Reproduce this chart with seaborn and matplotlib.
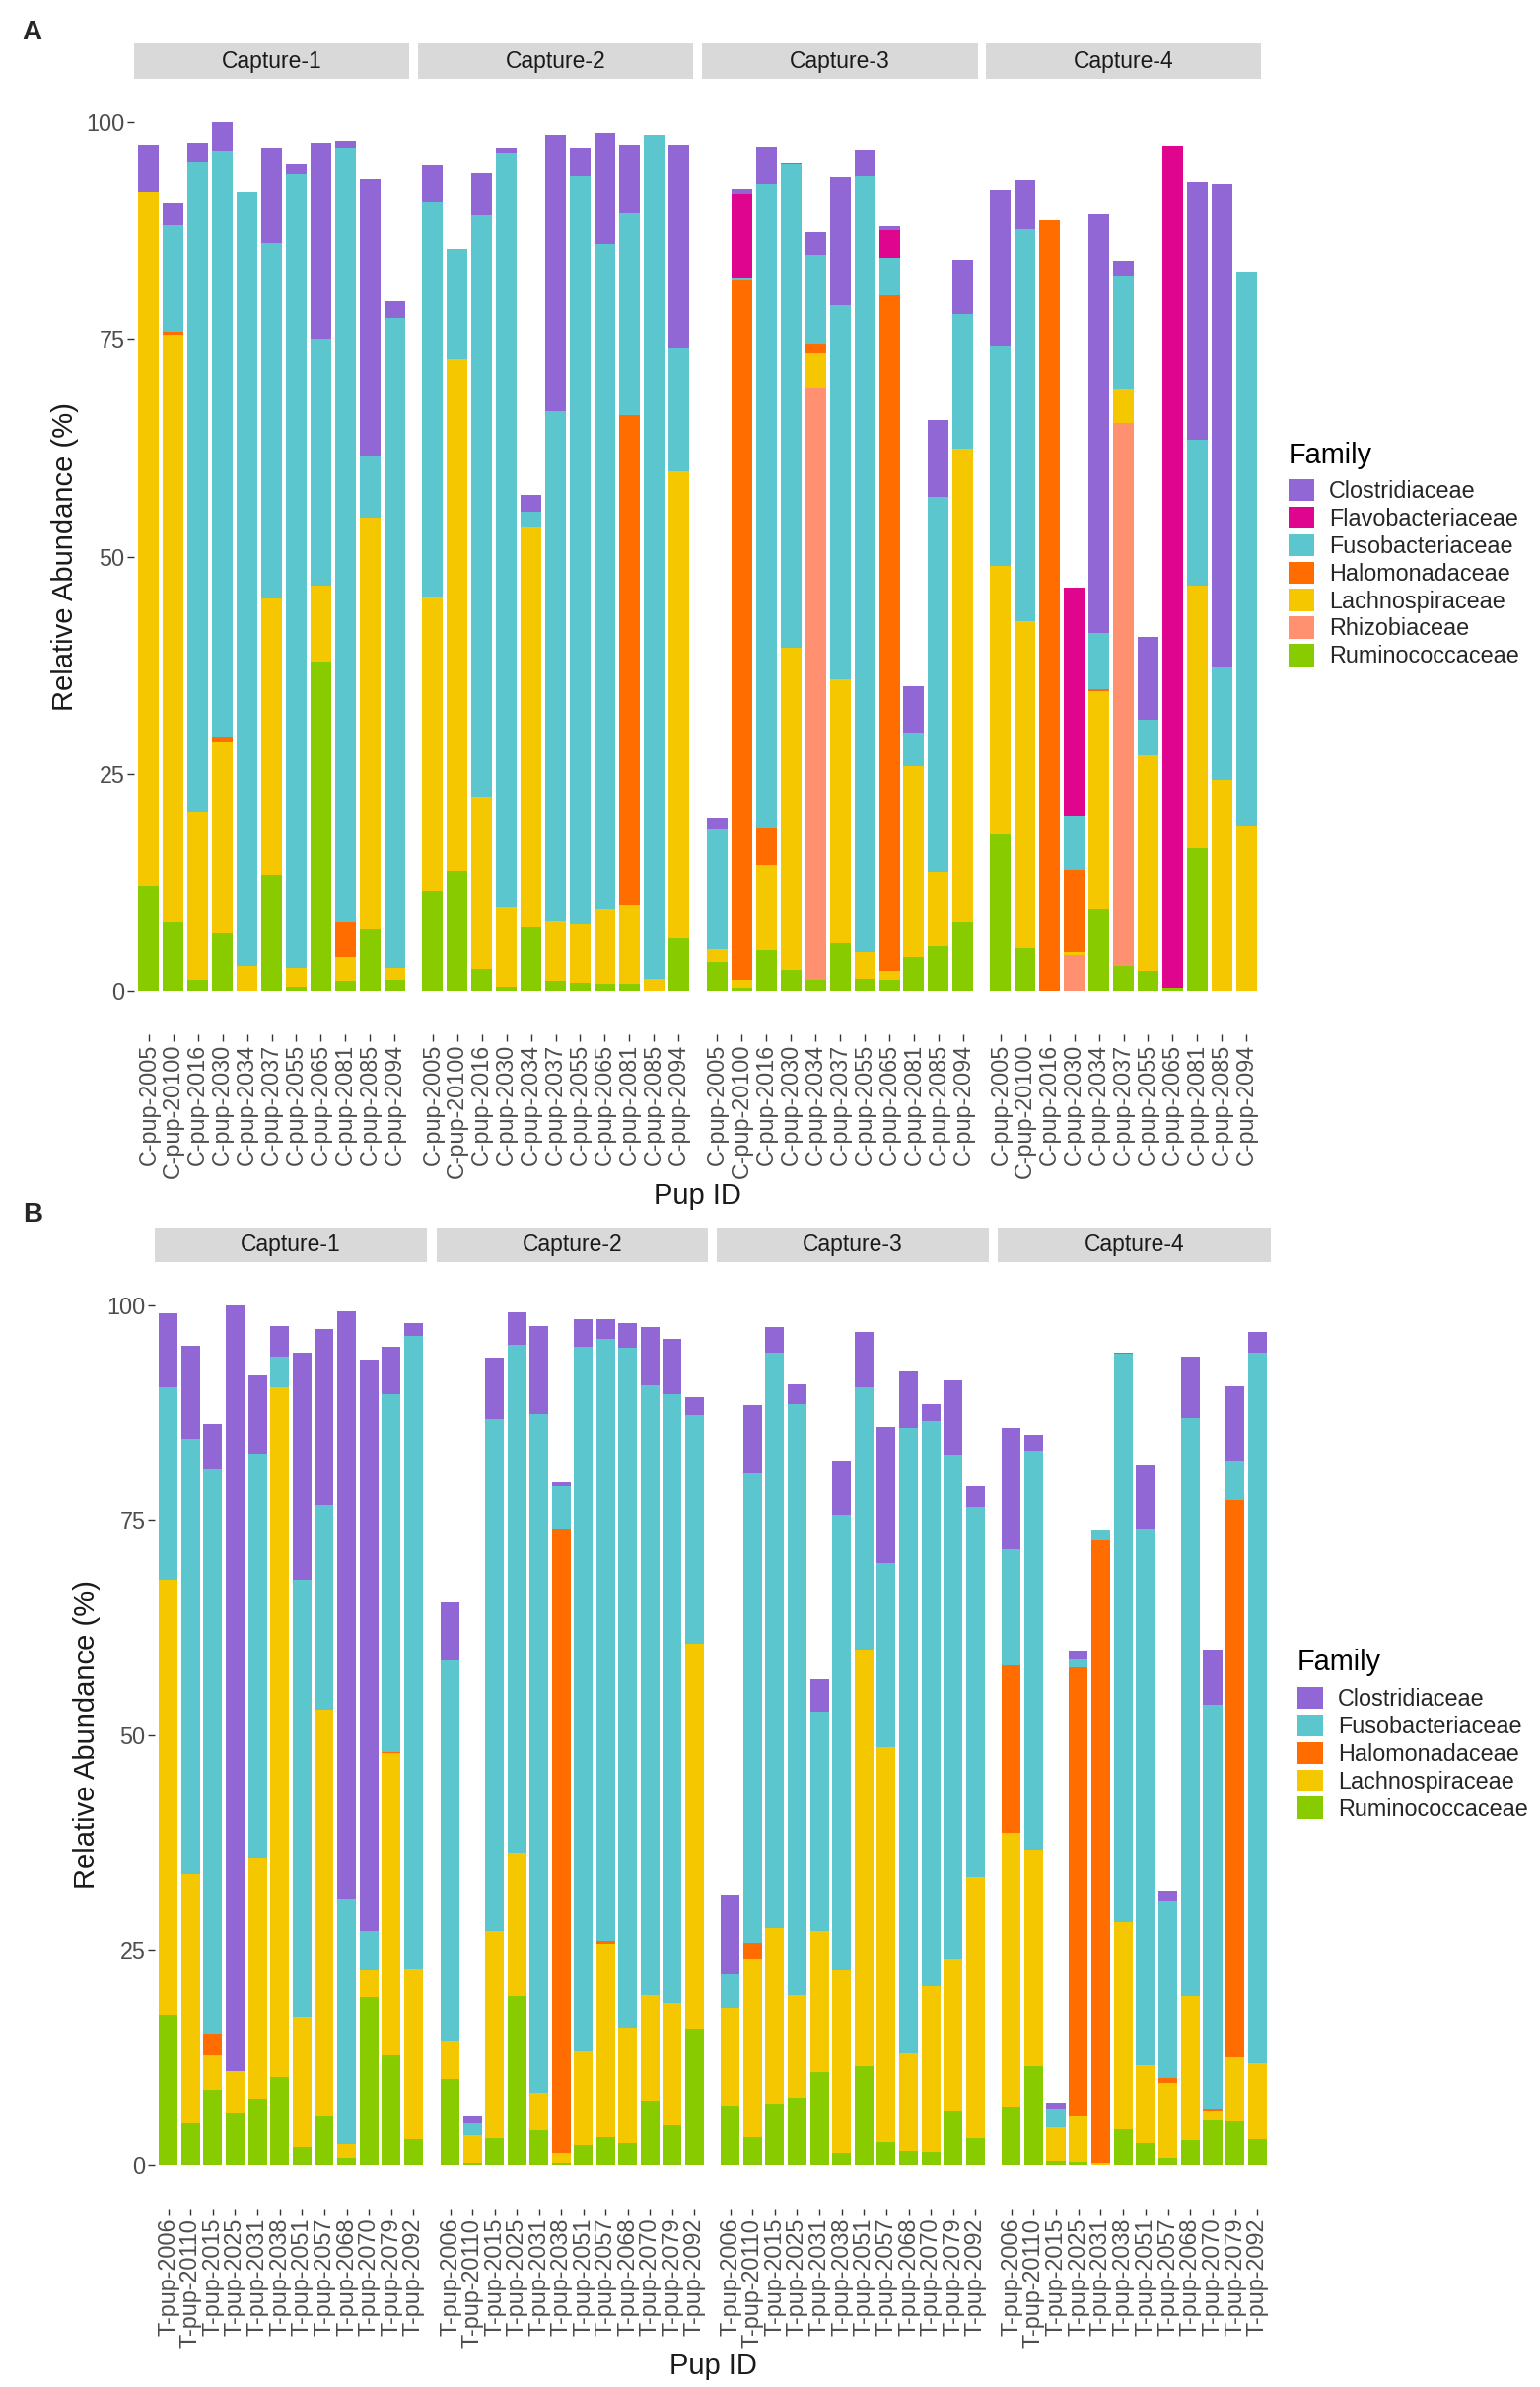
import numpy as np
import pandas as pd
import matplotlib
matplotlib.use("Agg")
import matplotlib.pyplot as plt
import seaborn as sns
from matplotlib.patches import Patch

W, H = 1562, 2421

captures = ["Capture-1", "Capture-2", "Capture-3", "Capture-4"]
families_a = ["Clostridiaceae", "Flavobacteriaceae", "Fusobacteriaceae", "Halomonadaceae",
              "Lachnospiraceae", "Rhizobiaceae", "Ruminococcaceae"]
families_b = ["Clostridiaceae", "Fusobacteriaceae", "Halomonadaceae",
              "Lachnospiraceae", "Ruminococcaceae"]
palette = {"Clostridiaceae": "#9067D5", "Flavobacteriaceae": "#E0058F",
           "Fusobacteriaceae": "#5CC6CE", "Halomonadaceae": "#FF6D00",
           "Lachnospiraceae": "#F5C700", "Rhizobiaceae": "#FF9170",
           "Ruminococcaceae": "#88CC00"}

pups_a = ["C-pup-2005", "C-pup-20100", "C-pup-2016", "C-pup-2030", "C-pup-2034", "C-pup-2037",
          "C-pup-2055", "C-pup-2065", "C-pup-2081", "C-pup-2085", "C-pup-2094"]
pups_b = ["T-pup-2006", "T-pup-20110", "T-pup-2015", "T-pup-2025", "T-pup-2031", "T-pup-2038",
          "T-pup-2051", "T-pup-2057", "T-pup-2068", "T-pup-2070", "T-pup-2079", "T-pup-2092"]

# panel A: relative abundance per capture (rows) and pup (columns)
clost_a = [[5.4, 2.5, 2.1, 3.3, 0, 10.8, 1.1, 22.6, 0.9, 31.9, 2.1],
           [4.3, 0, 4.9, 0.5, 1.9, 31.7, 3.3, 12.8, 7.8, 0, 23.4],
           [1.3, 0.6, 4.4, 0.2, 2.7, 14.7, 2.9, 0.5, 5.4, 8.8, 6.1],
           [18.0, 5.5, 0, 0, 48.3, 1.7, 9.6, 0, 29.6, 55.5, 0]]
flavo_a = [[0, 0, 0, 0, 0, 0, 0, 0, 0, 0, 0],
           [0, 0, 0, 0, 0, 0, 0, 0, 0, 0, 0],
           [0, 9.6, 0, 0, 0, 0, 0, 3.3, 0, 0, 0],
           [0, 0, 0, 26.3, 0, 0, 0, 97.0, 0, 0, 0]]
fuso_a = [[0, 12.4, 75.0, 67.5, 89.2, 41.0, 91.5, 28.3, 89.1, 7.0, 74.8],
          [45.4, 12.6, 66.9, 86.8, 1.8, 58.8, 86.1, 76.6, 23.3, 97.1, 14.2],
          [13.8, 0.3, 74.1, 55.7, 10.2, 43.1, 89.5, 4.2, 3.8, 43.2, 15.6],
          [25.3, 45.2, 0, 6.1, 6.5, 13.1, 4.1, 0, 16.9, 13.0, 63.8]]
halo_a = [[0, 0.3, 0, 0.6, 0, 0, 0, 0, 4.1, 0, 0],
          [0, 0, 0, 0, 0, 0, 0, 0, 56.4, 0, 0],
          [0, 80.5, 4.2, 0, 1.1, 0, 0, 77.8, 0, 0, 0],
          [0, 0, 88.8, 9.6, 0.2, 0, 0, 0, 0, 0, 0]]
lachno_a = [[80.0, 67.6, 19.2, 21.9, 2.8, 31.8, 2.1, 8.8, 2.7, 47.3, 1.3],
            [33.9, 58.9, 19.9, 9.2, 46.0, 6.9, 6.8, 8.6, 9.1, 1.4, 53.7],
            [1.5, 1.0, 9.8, 37.1, 4.1, 30.3, 3.0, 1.0, 22.1, 8.5, 54.5],
            [30.9, 37.7, 0, 0.3, 25.1, 3.8, 24.8, 0, 30.1, 24.3, 19.0]]
rhizo_a = [[0, 0, 0, 0, 0, 0, 0, 0, 0, 0, 0],
           [0, 0, 0, 0, 0, 0, 0, 0, 0, 0, 0],
           [0, 0, 0, 0, 68.0, 0, 0, 0, 0, 0, 0],
           [0, 0, 0, 4.1, 0, 62.6, 0, 0, 0, 0, 0]]
rumino_a = [[12.0, 7.9, 1.3, 6.7, 0, 13.4, 0.5, 37.9, 1.1, 7.2, 1.3],
            [11.5, 13.9, 2.5, 0.5, 7.4, 1.1, 0.9, 0.8, 0.8, 0, 6.1],
            [3.3, 0.3, 4.7, 2.4, 1.3, 5.6, 1.4, 1.3, 3.8, 5.2, 7.9],
            [18.0, 4.9, 0, 0, 9.4, 2.8, 2.3, 0.3, 16.5, 0, 0]]

# panel B
clost_b = [[8.6, 10.8, 5.3, 89.1, 9.1, 3.6, 26.5, 20.4, 68.3, 66.3, 5.5, 1.5],
           [6.8, 0.8, 7.1, 3.7, 10.2, 0.5, 3.2, 2.3, 2.9, 6.7, 6.5, 2.1],
           [9.1, 7.9, 2.9, 2.3, 3.8, 6.3, 6.5, 15.9, 6.5, 1.9, 8.7, 2.4],
           [14.1, 2.0, 0.7, 0.9, 0, 0.1, 7.5, 1.1, 7.1, 6.2, 8.8, 2.4]]
fuso_b = [[22.4, 50.7, 65.6, 0, 46.9, 3.6, 50.8, 23.8, 28.5, 4.6, 41.6, 73.5],
          [44.2, 1.4, 59.5, 59.0, 78.9, 5.1, 81.9, 70.0, 79.0, 70.8, 70.8, 26.5],
          [4.0, 54.7, 66.8, 68.6, 25.5, 52.8, 30.6, 21.4, 72.7, 65.7, 58.5, 43.1],
          [13.6, 46.3, 2.1, 0.9, 1.1, 66.1, 62.2, 20.7, 67.2, 47.0, 4.4, 82.5]]
halo_b = [[0, 0, 2.4, 0, 0, 0, 0, 0, 0, 0, 0.2, 0],
          [0, 0, 0, 0, 0, 72.5, 0, 0.4, 0, 0, 0, 0],
          [0, 1.8, 0, 0, 0, 0, 0, 0, 0, 0, 0, 0],
          [19.4, 0, 0, 52.1, 72.4, 0, 0, 0.5, 0, 0.2, 64.8, 0]]
lachno_b = [[50.5, 28.8, 4.1, 4.8, 28.1, 80.2, 15.1, 47.2, 1.6, 3.1, 35.0, 19.8],
            [4.5, 3.3, 24.0, 16.6, 4.2, 1.1, 11.0, 22.3, 13.4, 12.4, 14.1, 44.8],
            [11.4, 20.6, 20.6, 12.1, 16.4, 21.3, 48.2, 45.9, 11.5, 19.4, 17.6, 30.2],
            [31.9, 25.1, 4.0, 5.4, 0.3, 24.0, 9.1, 8.8, 16.7, 1.1, 7.4, 8.9]]
rumino_b = [[17.5, 5.0, 8.8, 6.1, 7.7, 10.2, 2.1, 5.8, 0.9, 19.6, 12.9, 3.1],
            [10.0, 0.3, 3.3, 19.8, 4.2, 0.3, 2.3, 3.4, 2.6, 7.5, 4.7, 15.9],
            [6.9, 3.4, 7.1, 7.8, 10.8, 1.4, 11.6, 2.7, 1.6, 1.5, 6.4, 3.3],
            [6.8, 11.6, 0.5, 0.4, 0, 4.3, 2.6, 0.8, 3.0, 5.3, 5.2, 3.1]]


def long_table(pups, series):
    rows = []
    for family, values in series.items():
        for c, cap in enumerate(captures):
            for p, pup in enumerate(pups):
                rows.append((cap, pup, family, values[c][p]))
    return pd.DataFrame(rows, columns=["capture", "pup", "family", "abundance"])


df_a = long_table(pups_a, {"Clostridiaceae": clost_a, "Flavobacteriaceae": flavo_a,
                           "Fusobacteriaceae": fuso_a, "Halomonadaceae": halo_a,
                           "Lachnospiraceae": lachno_a, "Rhizobiaceae": rhizo_a,
                           "Ruminococcaceae": rumino_a})
df_b = long_table(pups_b, {"Clostridiaceae": clost_b, "Fusobacteriaceae": fuso_b,
                           "Halomonadaceae": halo_b, "Lachnospiraceae": lachno_b,
                           "Ruminococcaceae": rumino_b})

sns.set_style("white")
plt.rcParams["font.family"] = ["Liberation Sans", "DejaVu Sans"]

fig = plt.figure(figsize=(W / 100, H / 100), dpi=100)


def box(x0, x1, y0, y1):
    return [x0 / W, 1 - y1 / H, (x1 - x0) / W, (y1 - y0) / H]


def draw_panel(df, pups, fams, facets_x, strip_y, panel_y):
    for i, cap in enumerate(captures):
        x0, x1 = facets_x[i]
        ax = fig.add_axes(box(x0, x1, panel_y[0], panel_y[1]))
        sub = df[df["capture"] == cap]
        sns.histplot(data=sub, x="pup", weights="abundance", hue="family",
                     hue_order=fams, palette=palette, multiple="stack",
                     discrete=True, shrink=0.84, alpha=1, linewidth=0,
                     legend=False, ax=ax)
        ax.set_xlim(-0.6, len(pups) - 0.4)
        ax.set_ylim(-5, 105)
        ax.set_xticks(range(len(pups)))
        ax.set_xticklabels(pups, rotation=90, fontsize=16.8, color="#4D4D4D")
        ax.set_xlabel("")
        ax.set_ylabel("")
        for s in ax.spines.values():
            s.set_visible(False)
        ax.tick_params(axis="x", length=5, width=1, color="#333333", pad=2, bottom=True)
        if i == 0:
            ax.set_yticks([0, 25, 50, 75, 100])
            ax.set_yticklabels(["0", "25", "50", "75", "100"], fontsize=16.8, color="#4D4D4D")
            ax.tick_params(axis="y", length=5, width=1, color="#333333", pad=2, left=True)
        else:
            ax.set_yticks([])
        sax = fig.add_axes(box(x0, x1, strip_y[0], strip_y[1]))
        sax.set_facecolor("#D9D9D9")
        sax.set_xticks([])
        sax.set_yticks([])
        for s in sax.spines.values():
            s.set_visible(False)
        sax.text(0.5, 0.5, cap, ha="center", va="center", fontsize=16.5,
                 color="#1A1A1A", transform=sax.transAxes)


facets_a = [(136, 415), (424, 703), (712, 992), (1000, 1279)]
facets_b = [(157, 433), (443, 718), (727, 1003), (1012, 1289)]
draw_panel(df_a, pups_a, families_a, facets_a, (44, 80), (80, 1049))
draw_panel(df_b, pups_b, families_b, facets_b, (1245, 1280), (1280, 2240))

# panel letters and axis titles
fig.text(22 / W, 1 - 20 / H, "A", fontsize=20, fontweight="bold", ha="left", va="top")
fig.text(23 / W, 1 - 1219 / H, "B", fontsize=20, fontweight="bold", ha="left", va="top")
fig.text(66 / W, 1 - 565 / H, "Relative Abundance (%)", rotation=90, fontsize=21,
         ha="center", va="center", color="#1A1A1A")
fig.text(88 / W, 1 - 1760 / H, "Relative Abundance (%)", rotation=90, fontsize=21,
         ha="center", va="center", color="#1A1A1A")
fig.text(707 / W, 1 - 1199 / H, "Pup ID", fontsize=21, ha="center", va="top", color="#1A1A1A")
fig.text(723 / W, 1 - 2386 / H, "Pup ID", fontsize=21, ha="center", va="top", color="#1A1A1A")


def add_legend(fams, x, title_base, keys_top):
    fig.text(x / W, 1 - title_base / H, "Family", fontsize=20.8, ha="left",
             va="baseline", color="black")
    handles = [Patch(facecolor=palette[f], edgecolor="none") for f in fams]
    fig.legend(handles, fams, loc="upper left", bbox_to_anchor=(x / W, 1 - keys_top / H),
               frameon=False, fontsize=16.8, handlelength=1.1, handleheight=1.1,
               labelspacing=0.16, handletextpad=0.65, borderpad=0, borderaxespad=0)


add_legend(families_a, 1307, 470, 486)
add_legend(families_b, 1316, 1694, 1711)

fig.savefig("out.png", dpi=100)
